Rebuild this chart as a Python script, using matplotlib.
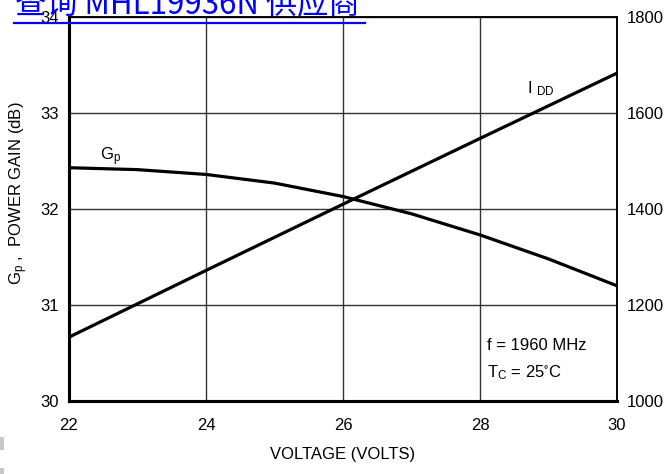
import matplotlib
matplotlib.use("Agg")
import matplotlib.pyplot as plt
from matplotlib.patches import Rectangle
from matplotlib.lines import Line2D

FONT = ["Liberation Sans", "DejaVu Sans"]
plt.rcParams["font.family"] = FONT
plt.rcParams["mathtext.fontset"] = "custom"
plt.rcParams["mathtext.rm"] = "Liberation Sans"
plt.rcParams["mathtext.it"] = "Liberation Sans"
plt.rcParams["mathtext.default"] = "regular"

# ── data ────────────────────────────────────────────────────────────────
voltage_gp = [22, 23, 24, 25, 26, 27, 28, 29, 30]
gain_db = [32.43, 32.41, 32.36, 32.27, 32.13, 31.95, 31.73, 31.48, 31.20]

voltage_idd = [22, 24, 26, 28, 30]
idd_ma = [1133, 1272, 1410, 1547, 1683]

x_ticks = [22, 24, 26, 28, 30]
gain_ticks = [30, 31, 32, 33, 34]
idd_ticks = [1000, 1200, 1400, 1600, 1800]

TICK_FS = 12
LABEL_FS = 12
CURVE_LW = 2.3
GRID_COLOR = "#333333"

fig = plt.figure(figsize=(6.65, 4.74), dpi=100)
ax = fig.add_axes([69 / 665, 73 / 474, 548 / 665, 384 / 474])
ax2 = ax.twinx()

ax.set_xlim(22, 30)
ax.set_ylim(30, 34)
ax2.set_ylim(1000, 1800)
ax.set_xticks(x_ticks)
ax.set_yticks(gain_ticks)
ax2.set_yticks(idd_ticks)

# grid lines
ax.grid(True, color=GRID_COLOR, linewidth=1.0)
ax.set_axisbelow(True)

ax.plot(voltage_gp, gain_db, color="black", linewidth=CURVE_LW,
        solid_capstyle="butt")
ax2.plot(voltage_idd, idd_ma, color="black", linewidth=CURVE_LW,
         solid_capstyle="butt")

# spines: heavy left/bottom, light top/right
for a in (ax, ax2):
    a.spines["left"].set_linewidth(2.2)
    a.spines["bottom"].set_linewidth(2.2)
    a.spines["top"].set_linewidth(1.1)
    a.spines["right"].set_linewidth(1.1)

ax.tick_params(axis="both", length=0, labelsize=TICK_FS)
ax.tick_params(axis="y", pad=7)
ax.tick_params(axis="x", pad=12)
ax2.tick_params(axis="y", length=0, labelsize=TICK_FS, pad=7)

ax.set_xlabel("VOLTAGE (VOLTS)", fontsize=LABEL_FS, labelpad=10)
ax.set_ylabel("G$_p$ ,  POWER GAIN (dB)", fontsize=LABEL_FS)
ax.yaxis.set_label_coords(-0.072, 0.54)

# curve labels and conditions
ax.text(22.45, 32.51, "G$_p$", fontsize=LABEL_FS)
ax.text(28.68, 33.2, "I $_{DD}$", fontsize=LABEL_FS)
ax.text(28.1, 30.53, "f = 1960 MHz", fontsize=LABEL_FS)
ax.text(28.1, 30.25, "T$_C$ = 25$^{\\circ}$C", fontsize=LABEL_FS)

# blue link-style header overlapping the top of the frame
fig.text(15 / 665, 1 - 14 / 474, "查询 MHL19936N 供应商", color="#0000ff",
         fontsize=22.5, family=["Noto Sans CJK SC", "DejaVu Sans"],
         va="baseline", ha="left")
fig.add_artist(Line2D([14 / 665, 365 / 665], [1 - 23 / 474, 1 - 23 / 474],
                      color="#0000ff", linewidth=1.6,
                      transform=fig.transFigure))

# faint scan marks at the bottom-left edge
fig.add_artist(Rectangle((0, 1 - 450 / 474), 4 / 665, 13 / 474,
                         transform=fig.transFigure, color="#c8c8c8", lw=0))
fig.add_artist(Rectangle((0, 0), 4 / 665, 6 / 474,
                         transform=fig.transFigure, color="#c8c8c8", lw=0))

fig.savefig("out.png", dpi=100)
